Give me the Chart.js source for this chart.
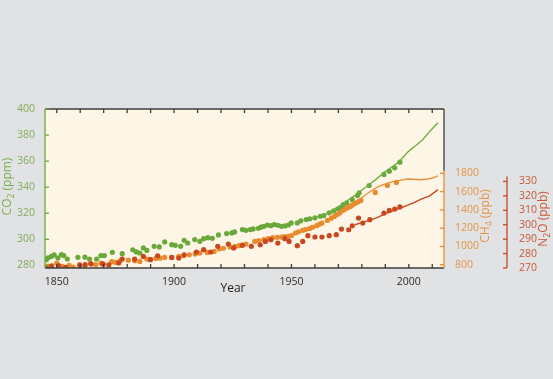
<!DOCTYPE html>
<html>
<head>
<meta charset="utf-8">
<script src="https://cdn.jsdelivr.net/npm/chart.js@4.4.1/dist/chart.umd.min.js"></script>
<style>
  html, body { margin: 0; padding: 0; background: #e1e2e4; }
  #wrap { width: 553px; height: 379px; }
</style>
</head>
<body>
<div id="wrap"><canvas id="chart"></canvas></div>
<script>
// CO2 (ppm) - ice core / firn dots
const co2Years = [1845.5,1846.2,1847.7,1848.9,1850.5,1852,1853,1854.5,1859,1862,1864,1867,1868.8,1870.3,1873.7,1877.9,1882.4,1883.9,1885.4,1886.9,1888.4,1891.5,1893.7,1896,1899,1900.5,1902.8,1904.3,1905.8,1908.8,1911,1912.6,1914.4,1916.3,1918.9,1922.4,1924.6,1925.8,1929.1,1930.6,1932.5,1933.7,1935.9,1937,1938.2,1939.7,1941.2,1942.7,1944.2,1945.7,1947.2,1948.7,1949.9,1952.5,1954,1956.3,1957.8,1960,1962.3,1963.8,1966.1,1968,1969.8,1971,1972.1,1973.6,1975.9,1978.1,1978.9,1983.1,1989.4,1991.7,1994,1996.2];
const co2Values = [284.4,285.7,286.9,288,285.7,288.2,287.5,284.9,286.2,286.4,284.9,284.9,287.5,287.5,290,289,292,290.3,289.5,293.4,291.5,294.6,294.2,298,295.9,295.4,294.6,299.2,297.2,299.8,298.5,300.5,301.3,300.8,303.4,304.4,304.9,305.7,307.5,306.9,307.5,308,308.5,309.3,310,311,310.5,311.3,310.8,310,310.3,311,312.6,312.6,314.2,315.2,315.7,316.5,317.7,318.2,320.3,321.8,323.4,324.4,326.7,328,330.5,333.6,335.7,341.3,349.8,352.3,354.9,359.2];
// CO2 (ppm) - direct measurements line
const co2LineYears = [1958,1962,1966,1970,1974,1978,1982,1986,1990,1994,1996,2000,2003,2006,2009,2012.4];
const co2LineValues = [315.5,318,320.5,325,330,335,340.5,346,352,357,360,367.7,372,376.6,383,389.4];

// CH4 (ppb)
const ch4Years = [1846.2,1848,1850,1852.3,1855.3,1857,1859.8,1862,1864.3,1866.6,1868.8,1870,1873.4,1875,1877.1,1880.5,1883.2,1885.4,1888.4,1890,1892.2,1894,1896,1899,1902,1904,1906.5,1909,1911,1914.1,1917.1,1919.3,1921,1923.9,1926,1927.6,1929,1930.6,1934.4,1936,1938.2,1940,1942,1944,1945.7,1947,1948.7,1950,1951.7,1953,1954.8,1956,1957.8,1959,1960.8,1962,1963,1965.3,1967,1968.3,1969.5,1970.6,1972,1972.9,1974,1975.1,1976,1977.4,1978.5,1979.6,1985.7,1990.9,1994.7];
const ch4Values = [785,790,818,781,792,775,800,790,818,800,818,805,833,825,844,850,844,836,862,858,869,872,880,880,891,898,909,918,928,935,946,972,980,994,1000,1008,1015,1026,1055,1065,1074,1085,1096,1100,1103,1108,1110,1120,1147,1160,1176,1185,1197,1210,1227,1245,1256,1285,1310,1329,1350,1366,1395,1410,1425,1438,1455,1475,1490,1504,1591,1668,1701];
const ch4LineYears = [1978,1981,1984.7,1987,1990.4,1993,1996.1,1999.6,2002,2004.6,2007,2008.9,2011,2012.4];
const ch4LineValues = [1495,1555,1621,1655,1687,1710,1723,1738,1735,1730,1735,1741,1757,1774];

// N2O (ppb)
const n2oYears = [1845.5,1847.7,1850.8,1853.8,1859.8,1862.1,1864.6,1869.6,1872.2,1876.4,1877.9,1883.2,1886.9,1889.9,1893,1899,1902,1904.3,1909.5,1912.6,1915.6,1918.6,1923.1,1925.4,1929.1,1932.9,1936.7,1938.9,1941.2,1944.2,1947.2,1949,1952.5,1954.8,1957,1960,1963,1966.1,1969.1,1971.3,1974.4,1975.9,1978.6,1980.4,1983.4,1989.4,1991.7,1994,1996.2];
const n2oValues = [270,271.1,271.6,270.4,271.8,272.3,272.8,272.8,272.1,273.5,276.2,276.2,278,275.8,278.5,277.3,276.9,279.2,281.1,282.7,281.1,285,286.6,283.9,285.7,285,286.1,288.4,289.6,287.3,290.3,288.4,285.5,288.4,292.4,291.5,291.5,292.4,293.1,297,296.5,299.3,304.6,301.2,303.5,308.1,309.9,310.9,312.3];
const n2oLineYears = [1977,1980,1986,1990,1994.7,2001.8,2005,2008.9,2012.4];
const n2oLineValues = [300,301.5,304.6,307.5,310.4,315,317.5,320,324.3];

// ticks
const yearTicks = [1850,1860,1870,1880,1890,1900,1910,1920,1930,1940,1950,1960,1970,1980,1990,2000,2010];
const yearLabels = [1850,1900,1950,2000];
const co2Ticks = [280,300,320,340,360,380,400];
const ch4Ticks = [800,1000,1200,1400,1600,1800];
const n2oTicks = [270,280,290,300,310,320,330];

const GREEN = '#69a83a', ORANGE = '#ea8a2f', RED = '#c9471f';
const FONT = '"Open Sans", "DejaVu Sans", sans-serif';

function pts(xs, ys) {
  return xs.map((x, i) => ({ x: x, y: ys[i] }));
}

function drawTitle(ctx, parts, cx, cy, color, size, rotate) {
  ctx.save();
  ctx.translate(cx, cy);
  if (rotate) ctx.rotate(-Math.PI / 2);
  ctx.fillStyle = color;
  ctx.textBaseline = 'middle';
  ctx.textAlign = 'left';
  const fonts = parts.map(p => (p.sub ? size * 0.72 : size) + 'px ' + FONT);
  let total = 0;
  const widths = parts.map((p, i) => {
    ctx.font = fonts[i];
    const w = ctx.measureText(p.t).width;
    total += w;
    return w;
  });
  let px = -total / 2;
  parts.forEach((p, i) => {
    ctx.font = fonts[i];
    ctx.fillText(p.t, px, p.sub ? size * 0.3 : 0);
    px += widths[i];
  });
  ctx.restore();
}

// fondo crema, marco, ticks hacia dentro y titulos
const frame = {
  id: 'frame',
  beforeDraw(chart) {
    const { ctx, chartArea: a } = chart;
    ctx.save();
    ctx.fillStyle = '#fdf6e6';
    ctx.fillRect(a.left, a.top, a.right - a.left, a.bottom - a.top);
    ctx.restore();
  },
  afterDraw(chart) {
    const { ctx, chartArea: a, scales } = chart;
    const x = scales.x, yC = scales.yCO2, yM = scales.yCH4, yN = scales.yN2O;
    const line = (x1, y1, x2, y2) => {
      ctx.beginPath();
      ctx.moveTo(x1, y1);
      ctx.lineTo(x2, y2);
      ctx.stroke();
    };
    ctx.save();
    ctx.lineWidth = 1.3;

    ctx.strokeStyle = '#3c3c3c';
    const ch4Top = yM.getPixelForValue(1830);
    line(a.left, a.top, a.right, a.top);
    line(a.left, a.bottom, a.right, a.bottom);
    line(a.right, a.top, a.right, ch4Top);
    yearTicks.forEach(v => {
      const px = x.getPixelForValue(v);
      line(px, a.top, px, a.top + 4);
      line(px, a.bottom, px, a.bottom - 4);
    });

    ctx.strokeStyle = GREEN;
    line(a.left, a.top, a.left, a.bottom);
    co2Ticks.forEach(v => {
      const py = yC.getPixelForValue(v);
      line(a.left, py, a.left + 4, py);
    });

    ctx.strokeStyle = ORANGE;
    line(a.right, ch4Top, a.right, a.bottom);
    ch4Ticks.forEach(v => {
      const py = yM.getPixelForValue(v);
      line(a.right - 4, py, a.right, py);
    });

    ctx.strokeStyle = RED;
    const nx = yN.left;
    line(nx, yN.getPixelForValue(333.5), nx, a.bottom);
    n2oTicks.forEach(v => {
      const py = yN.getPixelForValue(v);
      line(nx - 4, py, nx, py);
    });
    ctx.restore();

    drawTitle(ctx, [{ t: 'CO' }, { t: '2', sub: true }, { t: ' (ppm)' }], 8, (a.top + a.bottom) / 2 - 2, '#7fae50', 12, true);
    drawTitle(ctx, [{ t: 'CH' }, { t: '4', sub: true }, { t: ' (ppb)' }], yM.left + 42, 216, '#e59545', 12, true);
    drawTitle(ctx, [{ t: 'N' }, { t: '2', sub: true }, { t: 'O (ppb)' }], yN.left + 37, 219, '#c95836', 12, true);
    drawTitle(ctx, [{ t: 'Year' }], 233, 289, '#222222', 12, false);
  }
};

const dot = (color) => ({
  backgroundColor: color,
  borderWidth: 0,
  pointRadius: 2.6,
  pointHoverRadius: 2.6
});

const plain = v => String(v);

new Chart(document.getElementById('chart'), {
  type: 'scatter',
  data: {
    datasets: [
      Object.assign({ label: 'CO2', data: pts(co2Years, co2Values), yAxisID: 'yCO2', order: 6 }, dot(GREEN)),
      { label: 'CO2 line', data: pts(co2LineYears, co2LineValues), yAxisID: 'yCO2', showLine: true, pointRadius: 0, borderColor: '#6fae43', borderWidth: 1.4, order: 5 },
      Object.assign({ label: 'CH4', data: pts(ch4Years, ch4Values), yAxisID: 'yCH4', order: 4 }, dot(ORANGE)),
      { label: 'CH4 line', data: pts(ch4LineYears, ch4LineValues), yAxisID: 'yCH4', showLine: true, pointRadius: 0, borderColor: '#ec8f38', borderWidth: 1.4, order: 3 },
      Object.assign({ label: 'N2O', data: pts(n2oYears, n2oValues), yAxisID: 'yN2O', order: 2 }, dot(RED)),
      { label: 'N2O line', data: pts(n2oLineYears, n2oLineValues), yAxisID: 'yN2O', showLine: true, pointRadius: 0, borderColor: RED, borderWidth: 1.4, order: 1 }
    ]
  },
  options: {
    responsive: true,
    maintainAspectRatio: false,
    animation: false,
    events: [],
    layout: { padding: { top: 109, left: 0, right: 0, bottom: 0 } },
    plugins: { legend: { display: false }, tooltip: { enabled: false } },
    scales: {
      x: {
        type: 'linear',
        min: 1845,
        max: 2015,
        grid: { display: false },
        border: { display: false },
        afterBuildTicks: s => { s.ticks = yearTicks.map(v => ({ value: v })); },
        afterFit: s => { s.height = 111; },
        ticks: {
          padding: 0,
          color: '#2a2a2a',
          font: { family: FONT, size: 10.5 },
          maxRotation: 0,
          autoSkip: false,
          callback: v => (yearLabels.includes(v) ? String(v) : '')
        }
      },
      yCO2: {
        position: 'left',
        min: 278,
        max: 400,
        grid: { display: false },
        border: { display: false },
        afterBuildTicks: s => { s.ticks = co2Ticks.map(v => ({ value: v })); },
        afterFit: s => { s.width = 45; },
        ticks: { padding: 2, color: '#84ad5a', font: { family: FONT, size: 10.5 }, callback: plain }
      },
      yCH4: {
        position: 'right',
        weight: 0,
        min: 764,
        max: 2505,
        grid: { display: false },
        border: { display: false },
        afterBuildTicks: s => { s.ticks = ch4Ticks.map(v => ({ value: v })); },
        afterFit: s => { s.width = 63; },
        ticks: { padding: 3, color: '#e59545', font: { family: FONT, size: 10.5 }, callback: plain }
      },
      yN2O: {
        position: 'right',
        weight: 1,
        min: 270,
        max: 380.2,
        grid: { display: false },
        border: { display: false },
        afterBuildTicks: s => { s.ticks = n2oTicks.map(v => ({ value: v })); },
        afterFit: s => { s.width = 46; },
        ticks: { padding: 4, color: '#c95836', font: { family: FONT, size: 10.5 }, callback: plain }
      }
    }
  },
  plugins: [frame]
});
</script>
</body>
</html>
